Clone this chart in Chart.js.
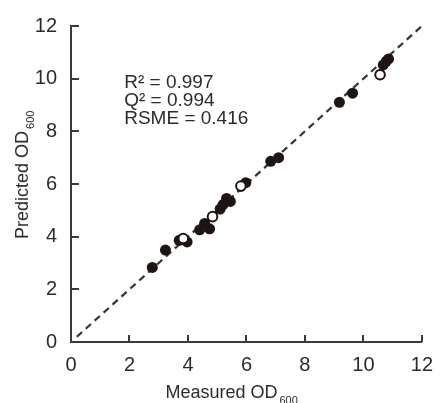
<!DOCTYPE html>
<html>
<head>
<meta charset="utf-8">
<script src="https://cdn.jsdelivr.net/npm/chart.js@4.4.0/dist/chart.umd.min.js"></script>
<style>
html,body{margin:0;padding:0;background:#fff;}
canvas{display:block;}
</style>
</head>
<body>
<canvas id="c" width="444" height="403"></canvas>
<script>
// Filled points (training set)
const filledX = [2.78, 3.23, 3.70, 3.97, 4.40, 4.57, 4.74, 5.10, 5.20, 5.32, 5.45, 5.98, 6.83, 7.10, 9.18, 9.63, 10.68, 10.78, 10.86];
const filledY = [2.83, 3.49, 3.86, 3.80, 4.26, 4.50, 4.30, 5.05, 5.22, 5.45, 5.34, 6.05, 6.86, 7.00, 9.10, 9.45, 10.52, 10.66, 10.75];
// Open points (validation set)
const openX = [3.84, 4.84, 5.81, 10.57];
const openY = [3.93, 4.76, 5.92, 10.15];
// 1:1 reference line
const lineX = [0.2, 12];
const lineY = [0.2, 12];
// Axis ticks
const tickValues = [0, 2, 4, 6, 8, 10, 12];
// Text
const xTitle = 'Measured OD';
const yTitle = 'Predicted OD';
const titleSub = '600';
const annLines = ['R\u00B2 = 0.997', 'Q\u00B2 = 0.994', 'RSME = 0.416'];

const INK = '#1e1512';
const AX = '#3a3a3a';

const toPts = (xs, ys) => xs.map((x, i) => ({x: x, y: ys[i]}));

const decor = {
  id: 'decor',
  afterDraw(chart) {
    const ctx = chart.ctx;
    const xs = chart.scales.x, ys = chart.scales.y;
    const ca = chart.chartArea;
    ctx.save();
    // inward ticks
    ctx.strokeStyle = AX;
    ctx.lineWidth = 2;
    tickValues.forEach(v => {
      const px = Math.round(xs.getPixelForValue(v));
      ctx.beginPath(); ctx.moveTo(px, ca.bottom); ctx.lineTo(px, ca.bottom - 7); ctx.stroke();
      const py = Math.round(ys.getPixelForValue(v));
      ctx.beginPath(); ctx.moveTo(ca.left, py); ctx.lineTo(ca.left + 8, py); ctx.stroke();
    });
    // annotation
    ctx.fillStyle = '#2b2b2b';
    ctx.font = '19px "Liberation Sans", Arial, sans-serif';
    ctx.textAlign = 'left';
    ctx.textBaseline = 'alphabetic';
    const ax = xs.getPixelForValue(1.82);
    const ay = ys.getPixelForValue(9.65);
    annLines.forEach((t, i) => ctx.fillText(t, ax, ay + i * 18.3));
    // x title
    ctx.font = '18px "Liberation Sans", Arial, sans-serif';
    const xStart = (ca.left + ca.right) / 2 - 81;
    const xBase = ca.bottom + 56;
    ctx.fillText(xTitle, xStart, xBase);
    const w1 = ctx.measureText(xTitle).width;
    ctx.font = '11px "Liberation Sans", Arial, sans-serif';
    ctx.fillText(titleSub, xStart + w1 + 2, xBase + 6);
    // y title
    ctx.save();
    const yStart = (ca.top + ca.bottom) / 2 + 55;
    ctx.translate(ca.left - 43, yStart);
    ctx.rotate(-Math.PI / 2);
    ctx.font = '18px "Liberation Sans", Arial, sans-serif';
    ctx.fillText(yTitle, 0, 0);
    const w2 = ctx.measureText(yTitle).width;
    ctx.font = '11px "Liberation Sans", Arial, sans-serif';
    ctx.fillText(titleSub, w2 + 2, 6);
    ctx.restore();
    ctx.restore();
  }
};

const scaleCommon = (fitFn) => ({
  type: 'linear',
  min: 0,
  max: 12,
  afterFit: fitFn,
  afterBuildTicks: (s) => { s.ticks = tickValues.map(v => ({value: v})); },
  grid: {display: true, drawOnChartArea: false, drawTicks: false},
  border: {display: true, color: AX, width: 2},
  ticks: {
    color: '#2b2b2b',
    font: {family: '"Liberation Sans", Arial, sans-serif', size: 20},
    autoSkip: false,
    maxRotation: 0
  }
});

const xOpts = scaleCommon(s => { s.height = 61; });
xOpts.ticks.padding = 11;
const yOpts = scaleCommon(s => { s.width = 71; });
yOpts.ticks.padding = 14;

new Chart(document.getElementById('c'), {
  type: 'scatter',
  data: {
    datasets: [
      {
        label: 'Validation',
        data: toPts(openX, openY),
        backgroundColor: '#ffffff',
        borderColor: INK,
        borderWidth: 2,
        pointRadius: 4.8,
        pointHoverRadius: 4.8
      },
      {
        label: 'Training',
        data: toPts(filledX, filledY),
        backgroundColor: INK,
        borderColor: INK,
        borderWidth: 0,
        pointRadius: 5.5,
        pointHoverRadius: 5.5
      },
      {
        label: '1:1',
        data: toPts(lineX, lineY),
        showLine: true,
        borderColor: '#333333',
        borderWidth: 2.2,
        borderDash: [7, 5],
        pointRadius: 0,
        clip: false
      }
    ]
  },
  options: {
    responsive: false,
    animation: false,
    devicePixelRatio: 1,
    layout: {padding: {top: 23, right: 17, left: 0, bottom: 0}},
    plugins: {legend: {display: false}, tooltip: {enabled: false}},
    scales: {x: xOpts, y: yOpts}
  },
  plugins: [decor]
});
</script>
</body>
</html>
